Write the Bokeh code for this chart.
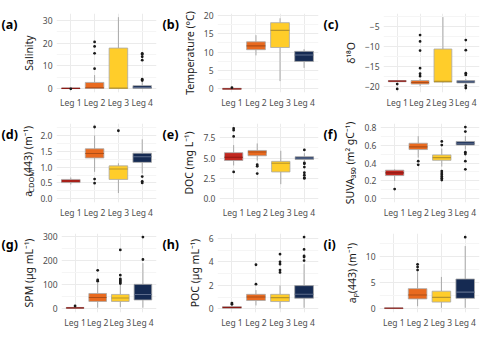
import math
from bokeh.plotting import figure
from bokeh.layouts import row, column
from bokeh.models import Range1d, FixedTicker, PrintfTickFormatter
from bokeh.core.properties import value
from bokeh.embed import file_html
from bokeh.resources import INLINE

legs = ["Leg 1", "Leg 2", "Leg 3", "Leg 4"]
colors = ["#C2271F", "#E96A1F", "#FFCD2A", "#152A52"]
med_colors = ["#8C1A15", "#AE4E17", "#B8952A", "#5D6C8C"]

# (a) Salinity
sal_q1 = [0.1, 0.15, 0.15, 0.2]
sal_med = [0.2, 0.5, 0.3, 0.6]
sal_q3 = [0.35, 2.8, 17.8, 1.4]
sal_lo = [0.05, 0.0, 0.0, 0.0]
sal_hi = [0.45, 6.0, 31.3, 3.0]
sal_out = [[0.0], [8.8, 15.5, 18.5, 20.5], [], [3.6, 4.2, 12.5, 14.0, 15.0, 15.5]]

# (b) Temperature
tmp_q1 = [-0.1, 10.65, 11.25, 7.45]
tmp_med = [0.0, 11.7, 15.9, 9.2]
tmp_q3 = [0.15, 12.8, 18.0, 10.2]
tmp_lo = [-0.2, 9.1, 2.1, 5.7]
tmp_hi = [0.25, 14.6, 19.2, 10.8]
tmp_out = [[0.3], [], [], []]

# (c) d18O
d18_q1 = [-18.8, -19.4, -18.9, -19.1]
d18_med = [-18.65, -19.0, -18.7, -18.8]
d18_q3 = [-18.5, -18.5, -10.6, -18.5]
d18_lo = [-18.9, -19.9, -19.1, -19.4]
d18_hi = [-18.4, -18.1, -2.6, -18.1]
d18_out = [[-19.4, -20.6], [-7.1, -8.7, -11.0, -15.4, -16.8, -17.4], [],
           [-8.35, -10.9, -16.65, -17.1, -19.8, -20.4]]

# (d) aCDOM(443)
cd_q1 = [0.51, 1.29, 0.61, 1.15]
cd_med = [0.56, 1.43, 0.94, 1.33]
cd_q3 = [0.61, 1.58, 1.04, 1.44]
cd_lo = [0.45, 0.85, 0.18, 0.8]
cd_hi = [0.67, 2.0, 1.12, 1.88]
cd_out = [[], [0.62, 0.49, 2.27], [2.15], [0.7, 0.55, 0.5]]

# (e) DOC
doc_q1 = [4.71, 5.29, 3.3, 4.83]
doc_med = [5.1, 5.75, 4.37, 5.0]
doc_q3 = [5.67, 5.94, 4.6, 5.17]
doc_lo = [4.1, 4.7, 1.8, 4.6]
doc_hi = [6.6, 6.8, 5.9, 5.6]
doc_out = [[8.66, 8.43, 7.66, 3.3], [4.2, 4.0, 3.1], [],
           [6.0, 4.4, 4.3, 3.9, 3.2, 2.9, 2.6, 2.5]]

# (f) SUVA350
suva_q1 = [0.26, 0.55, 0.43, 0.60]
suva_med = [0.29, 0.58, 0.46, 0.62]
suva_q3 = [0.32, 0.62, 0.49, 0.64]
suva_lo = [0.2, 0.46, 0.36, 0.55]
suva_hi = [0.33, 0.7, 0.56, 0.7]
suva_out = [[0.11], [0.42, 0.38], [0.64, 0.6, 0.31, 0.29, 0.27, 0.25, 0.23, 0.21],
            [0.8, 0.75, 0.52, 0.5, 0.42, 0.33]]

# (g) SPM
spm_q1 = [2, 31, 31, 37]
spm_med = [4, 47, 45, 60]
spm_q3 = [6, 64, 60, 102]
spm_lo = [1, 5, 8, 5]
spm_hi = [9, 108, 100, 190]
spm_out = [[12], [115, 120, 160], [105, 110, 115, 120, 125, 140, 245], [205, 298]]

# (h) POC
poc_q1 = [0.06, 0.72, 0.63, 0.91]
poc_med = [0.12, 1.02, 0.96, 1.25]
poc_q3 = [0.2, 1.24, 1.24, 1.98]
poc_lo = [0.02, 0.3, 0.05, 0.1]
poc_hi = [0.3, 1.6, 2.0, 3.8]
poc_out = [[0.4, 0.5], [2.1, 3.75], [3.1, 3.3, 3.8, 4.0, 4.65], [4.1, 4.4, 4.5, 5.05, 6.1]]

# (i) ap(443)
ap_q1 = [0.05, 1.9, 1.29, 2.0]
ap_med = [0.12, 2.64, 2.2, 3.2]
ap_q3 = [0.2, 3.86, 3.37, 5.7]
ap_lo = [0.0, 0.5, 0.2, 0.2]
ap_hi = [0.3, 7.0, 6.1, 12.0]
ap_out = [[], [7.4, 8.0, 8.5], [], [13.7]]

FONT = "Noto Sans"
H = 110
TOP, BOT = 13, 17
FRAME_H = H - TOP - BOT
LAB_FS = "10.5px"


def strip(tag, width, pieces=()):
    """Narrow figure holding the panel tag (and, for (d), the y title)."""
    s = figure(width=width, height=H, x_range=Range1d(0, width),
               y_range=Range1d(0, H), output_backend="svg", title=None,
               toolbar_location=None, x_axis_location=None,
               y_axis_location=None, min_border=0)
    s.outline_line_color = None
    s.xgrid.visible = False
    s.ygrid.visible = False
    s.text(x=[1], y=[H - 3], text=[tag], text_font=value(FONT),
           text_font_style="bold", text_font_size="12.5px",
           text_baseline="top", text_align="left", text_color="#000000")
    for txt, x, y, fs in pieces:
        s.text(x=[x], y=[y], text=[txt], angle=math.pi / 2,
               text_font=value(FONT), text_font_size=fs,
               text_align="left", text_baseline="middle", text_color="#1A1A1A")
    return s


def panel(ylabel, q1, med, q3, lo, hi, outl, yr, ticks, minor, fmt,
          width, left, right):
    p = figure(width=width, height=H, x_range=Range1d(0.4, 4.6),
               y_range=Range1d(*yr), output_backend="svg", title=None,
               toolbar_location=None, min_border_left=left,
               min_border_right=right, min_border_top=TOP,
               min_border_bottom=BOT)
    p.outline_line_color = None
    xs = list(range(1, len(legs) + 1))
    hw = 0.39
    p.segment(x0=xs, y0=q3, x1=xs, y1=hi, line_color="#A8A8A8", line_width=1)
    p.segment(x0=xs, y0=q1, x1=xs, y1=lo, line_color="#A8A8A8", line_width=1)
    p.vbar(x=xs, width=2 * hw, bottom=q1, top=q3, fill_color=colors,
           line_color="#A8A8A8", line_width=0.8)
    p.segment(x0=[x - hw for x in xs], y0=med, x1=[x + hw for x in xs], y1=med,
              line_color=med_colors, line_width=1.1)
    ox = [xs[i] for i, o in enumerate(outl) for _ in o]
    oy = [v for o in outl for v in o]
    p.scatter(ox, oy, size=2.8, color="#1A1A1A", line_width=0)

    p.xaxis.ticker = FixedTicker(ticks=xs)
    p.xaxis.major_label_overrides = {x: l for x, l in zip(xs, legs)}
    p.yaxis.ticker = FixedTicker(ticks=ticks, minor_ticks=minor)
    if fmt:
        p.yaxis.formatter = PrintfTickFormatter(format=fmt)
    for ax in (p.xaxis[0], p.yaxis[0]):
        ax.axis_line_color = None
        ax.major_tick_line_color = None
        ax.minor_tick_line_color = None
        ax.major_tick_out = 0
        ax.major_tick_in = 0
        ax.minor_tick_out = 0
        ax.major_label_text_font = FONT
        ax.major_label_text_font_size = "8.5px"
        ax.major_label_text_color = "#4D4D4D"
        ax.major_label_standoff = 4
    if ylabel:
        p.yaxis.axis_label = ylabel
        p.yaxis.axis_label_text_font = FONT
        p.yaxis.axis_label_text_font_size = LAB_FS
        p.yaxis.axis_label_text_font_style = "normal"
        p.yaxis.axis_label_text_color = "#1A1A1A"
        p.yaxis.axis_label_standoff = 4
    p.xgrid.grid_line_color = "#EBEBEB"
    p.ygrid.grid_line_color = "#EBEBEB"
    p.ygrid.minor_grid_line_color = "#F5F5F5"
    return p


A1 = dict(width=143, left=38, right=5)
A2 = dict(width=143, left=38, right=4)
A3 = dict(width=144, left=39, right=5)

sa = strip("(a)", 18)
pa = panel("Salinity", sal_q1, sal_med, sal_q3, sal_lo, sal_hi, sal_out,
           (-1.6, 32.9), [0, 10, 20, 30], [5, 15, 25], None, **A1)
sb = strip("(b)", 18)
pb = panel("Temperature (°C)", tmp_q1, tmp_med, tmp_q3, tmp_lo, tmp_hi, tmp_out,
           (-1.0, 20.5), [0, 5, 10, 15, 20], [2.5, 7.5, 12.5, 17.5], None, **A2)
sc = strip("(c)", 18)
pc = panel("δ¹⁸O", d18_q1, d18_med, d18_q3, d18_lo, d18_hi, d18_out,
           (-21.5, -1.7), [-20, -15, -10, -5], [-17.5, -12.5, -7.5, -2.5], None, **A3)

# (d) y title with a real subscript: a + CDOM (smaller, lowered) + (443) (m⁻¹)
y0 = BOT + FRAME_H / 2 - 78.3 / 2 - 10
sd = strip("(d)", 36, [("a", 27, y0, LAB_FS),
                       ("CDOM", 30, y0 + 5.9, "7.5px"),
                       ("(443) (m⁻¹)", 27, y0 + 5.9 + 22.9, LAB_FS)])
pd = panel(None, cd_q1, cd_med, cd_q3, cd_lo, cd_hi, cd_out,
           (-0.12, 2.38), [0, 0.5, 1.0, 1.5, 2.0], [0.25, 0.75, 1.25, 1.75, 2.25], "%.1f",
           width=125, left=20, right=5)
se = strip("(e)", 18)
pe = panel("DOC (mg L⁻¹)", doc_q1, doc_med, doc_q3, doc_lo, doc_hi, doc_out,
           (-0.45, 9.25), [0, 2.5, 5.0, 7.5], [1.25, 3.75, 6.25, 8.75], "%.1f", **A2)
sf = strip("(f)", 18)
pf = panel("SUVA₃₅₀ (m² gC⁻¹)", suva_q1, suva_med, suva_q3, suva_lo, suva_hi, suva_out,
           (-0.04, 0.84), [0, 0.2, 0.4, 0.6, 0.8], [0.1, 0.3, 0.5, 0.7], "%.1f", **A3)
sg = strip("(g)", 18)
pg = panel("SPM (µg mL⁻¹)", spm_q1, spm_med, spm_q3, spm_lo, spm_hi, spm_out,
           (-15, 313), [0, 100, 200, 300], [50, 150, 250], None, **A1)
sh = strip("(h)", 18)
ph = panel("POC (µg mL⁻¹)", poc_q1, poc_med, poc_q3, poc_lo, poc_hi, poc_out,
           (-0.3, 6.4), [0, 2, 4, 6], [1, 3, 5], None, **A2)
si = strip("(i)", 18)
pi_ = panel("aₚ(443) (m⁻¹)", ap_q1, ap_med, ap_q3, ap_lo, ap_hi, ap_out,
            (-0.7, 14.4), [0, 5, 10], [2.5, 7.5, 12.5], None, **A3)

layout = column(row(sa, pa, sb, pb, sc, pc),
                row(sd, pd, se, pe, sf, pf),
                row(sg, pg, sh, ph, si, pi_))

open("out.html", "w").write(file_html(layout, INLINE))
